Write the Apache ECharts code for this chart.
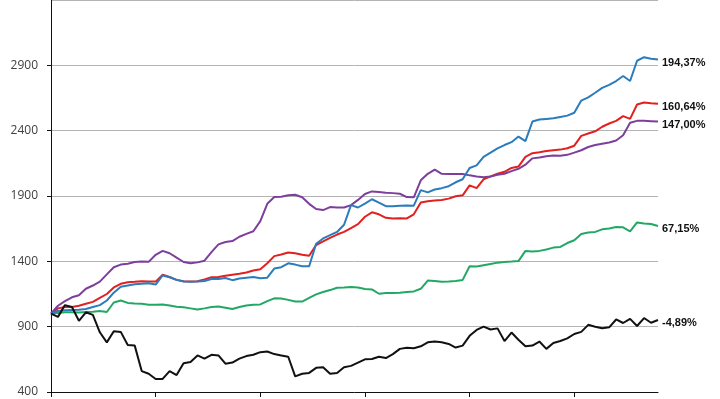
<!DOCTYPE html>
<html>
<head>
<meta charset="utf-8">
<script src="https://cdn.jsdelivr.net/npm/echarts@6/dist/echarts.min.js"></script>
<style>
html,body{margin:0;padding:0;background:#fff;}
#chart{width:720px;height:399px;}
</style>
</head>
<body>
<div id="chart"></div>
<script>
// y axis ticks
var yMin = 400, yMax = 3400, yStep = 500;

// end-of-line labels (total return)
var endLabels = ['194,37%', '160,64%', '147,00%', '67,15%', '-4,89%'];

var blue = [1000,1020,1025,1028,1030,1035,1050,1065,1100,1160,1205,1215,1225,1228,1232,1222,1292,1278,1258,1245,
  1243,1245,1250,1265,1265,1272,1256,1268,1275,1280,1270,1275,1345,1355,1385,1375,1362,1362,1535,1575,
  1600,1625,1680,1830,1812,1842,1875,1850,1822,1821,1825,1828,1826,1945,1928,1950,1960,1975,2005,2028,
  2114,2134,2200,2232,2265,2290,2312,2355,2320,2470,2485,2490,2495,2505,2515,2537,2630,2655,2690,2727,
  2750,2780,2818,2780,2935,2962,2950,2944];
var red = [1000,1040,1050,1050,1060,1075,1090,1120,1150,1200,1228,1240,1243,1247,1245,1245,1298,1280,1258,1248,
  1245,1248,1262,1278,1280,1290,1298,1305,1315,1330,1340,1385,1440,1452,1468,1462,1450,1443,1525,1552,
  1580,1605,1625,1655,1685,1741,1775,1760,1733,1728,1730,1728,1760,1850,1860,1865,1870,1880,1898,1905,
  1981,1960,2028,2050,2070,2085,2115,2125,2200,2228,2235,2245,2250,2255,2265,2285,2360,2378,2395,2430,
  2455,2475,2511,2490,2600,2615,2610,2606];
var purple = [1000,1060,1095,1125,1140,1190,1215,1245,1300,1355,1375,1382,1395,1398,1396,1450,1480,1462,1428,1395,
  1385,1392,1405,1470,1530,1548,1555,1588,1610,1630,1708,1840,1892,1895,1905,1910,1890,1840,1800,1792,
  1815,1812,1812,1830,1870,1915,1935,1930,1925,1922,1917,1892,1890,2020,2070,2102,2070,2068,2069,2069,
  2058,2050,2043,2050,2062,2070,2090,2108,2140,2188,2195,2205,2210,2208,2215,2232,2250,2275,2290,2300,
  2310,2325,2365,2460,2475,2475,2473,2470];
var green = [1000,1005,1010,1010,1008,1012,1015,1020,1012,1085,1100,1082,1078,1075,1068,1068,1070,1062,1052,1048,
  1040,1032,1040,1050,1055,1045,1035,1050,1062,1068,1070,1095,1117,1115,1105,1093,1092,1120,1147,1165,
  1180,1198,1200,1203,1200,1188,1185,1152,1158,1158,1160,1165,1170,1190,1253,1250,1243,1245,1250,1258,
  1362,1360,1370,1380,1390,1395,1398,1402,1480,1475,1480,1490,1505,1510,1540,1561,1610,1620,1625,1645,
  1652,1662,1660,1630,1698,1690,1686,1671];
var black = [1000,975,1065,1050,945,1010,990,857,780,865,860,760,755,560,540,500,500,560,530,620,
  630,680,655,685,680,617,625,655,675,685,705,710,690,680,670,520,540,546,585,590,
  540,545,590,600,625,650,652,670,660,690,730,738,735,750,780,786,780,768,740,755,
  830,875,900,878,887,790,855,800,750,755,786,730,775,790,810,844,860,914,900,888,
  895,955,928,960,905,966,930,951];

var periods = [];
for (var i = 0; i < blue.length; i++) periods.push(String(i + 1));

var chart = echarts.init(document.getElementById('chart'));

function mk(name, data, color, idx) {
  return {
    name: name, type: 'line', data: data, symbol: 'none', smooth: false,
    lineStyle: {color: color, width: 2},
    itemStyle: {color: color},
    endLabel: {
      show: true, distance: 4, offset: [0, 3],
      formatter: function(){ return endLabels[idx]; },
      color: '#111', fontSize: 11, fontWeight: 'bold', fontFamily: 'Liberation Sans'
    }
  };
}

chart.setOption({
  animation: false,
  grid: {left: 51, right: 62, top: -4, bottom: 7},
  xAxis: {
    type: 'category', data: periods, boundaryGap: false,
    axisLine: {lineStyle: {color: '#111', width: 1}},
    axisTick: {show: true, interval: 14, length: 5, lineStyle: {color: '#111'}},
    axisLabel: {show: false},
    splitLine: {show: false}
  },
  yAxis: {
    type: 'value', min: yMin, max: yMax, interval: yStep,
    axisLine: {show: true, lineStyle: {color: '#111', width: 1}},
    axisTick: {show: true, length: 4, lineStyle: {color: '#111'}},
    axisLabel: {margin: 13, color: '#404040', fontSize: 12, fontFamily: 'Open Sans', showMaxLabel: false,
      formatter: function(v){ return String(v); }},
    splitLine: {lineStyle: {color: '#b4b4b4', width: 1}}
  },
  series: [
    mk('green', green, '#22a865', 3),
    mk('red', red, '#e2201f', 1),
    mk('purple', purple, '#7d3f9c', 2),
    mk('blue', blue, '#2a7cbd', 0),
    mk('black', black, '#111111', 4)
  ]
});
</script>
</body>
</html>
